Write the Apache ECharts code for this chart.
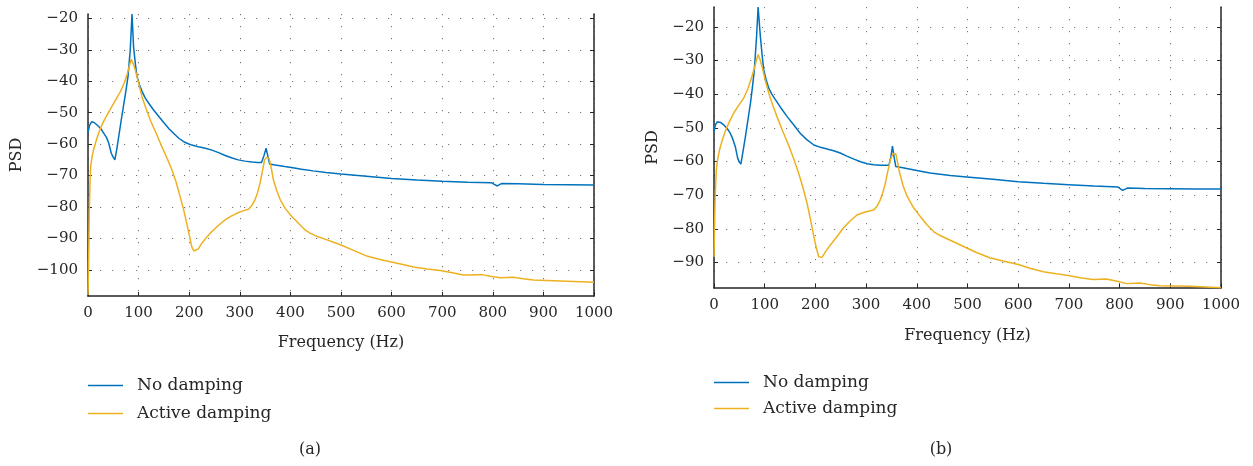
<!DOCTYPE html>
<html>
<head>
<meta charset="utf-8">
<style>
  html, body { margin: 0; padding: 0; background: #fff; }
  #chart { width: 1253px; height: 466px; }
</style>
<script src="https://cdn.jsdelivr.net/npm/echarts@6/dist/echarts.min.js"></script>
</head>
<body>
<div id="chart"></div>
<script>
// tick labels
var freqTicks = [0, 100, 200, 300, 400, 500, 600, 700, 800, 900, 1000]
var psdTicksA = [-100, -90, -80, -70, -60, -50, -40, -30, -20]
var psdTicksB = [-90, -80, -70, -60, -50, -40, -30, -20]

// (a) no damping
var freqA1 = [0, 3, 7, 12, 18, 25, 31, 37, 41, 46, 50, 53, 57, 61, 66, 70, 75, 79, 83.5, 87, 90, 94, 97, 102, 107, 113, 120, 130, 140, 150, 160, 170, 180, 190, 197, 205, 218, 232, 245, 258, 271, 285, 297, 310, 324, 335, 343, 348, 352, 355, 359, 370, 389, 405, 422, 445, 470, 500, 550, 600, 650, 700, 750, 798, 803, 809, 814, 818, 850, 900, 950, 1000]
var psdA1 = [-56.3, -54, -52.9, -53.1, -53.9, -55, -56.5, -58, -59.7, -62.9, -64.2, -65, -61.5, -57.3, -52, -48, -43, -38.5, -30, -18.6, -29, -35, -38.5, -41.3, -43.3, -45.3, -47, -49.2, -51.2, -53.2, -55.1, -56.7, -58.2, -59.3, -59.8, -60.3, -60.8, -61.3, -61.9, -62.7, -63.6, -64.4, -65, -65.4, -65.7, -65.8, -65.8, -63.5, -61.3, -63.5, -66.3, -66.6, -67.1, -67.5, -68, -68.5, -69, -69.5, -70.2, -70.9, -71.4, -71.8, -72.1, -72.3, -72.8, -73.3, -72.8, -72.5, -72.6, -72.8, -72.9, -73]

// (a) active damping
var freqA2 = [0, 1.5, 2.6, 4, 5.3, 8, 11, 16, 21, 27, 34, 42, 50.7, 58, 64, 71, 77, 82, 85.5, 89, 93.5, 100, 106.6, 115, 123, 135, 146, 156, 166, 174, 182, 189, 195, 200, 205, 209, 212, 218, 225, 235, 245, 258, 271, 283, 294, 305, 317, 324, 330, 335, 340, 345, 349, 353, 358, 362, 366.5, 373, 380, 390, 402.7, 415, 429, 439, 450, 468.5, 498.6, 525, 551, 575, 597, 620, 643.5, 670, 696, 720, 742, 760, 778.5, 795, 815, 841, 860, 880.6, 933, 1000]
var psdA2 = [-108, -95, -81, -72, -67.1, -64, -61.8, -59, -56.5, -54, -51.8, -49.5, -47, -45, -43.3, -40.8, -38, -35, -33, -34.3, -36.4, -40.5, -44.9, -48.8, -52.3, -56.6, -60.8, -64.4, -68.2, -72, -76.7, -80.8, -85.1, -88.8, -92.6, -94, -94.5, -93.3, -91.5, -89.5, -87.8, -85.8, -84.1, -82.9, -82, -81.3, -80.7, -79.5, -77.7, -75.5, -72.4, -68.3, -65, -64.2, -64.5, -67.5, -71.4, -74.8, -77.7, -80.5, -83, -85, -87.3, -88.3, -89.2, -90.2, -92, -93.8, -95.6, -96.6, -97.4, -98.2, -99.1, -99.7, -100.2, -100.9, -101.6, -101.6, -101.5, -102, -102.5, -102.3, -102.8, -103.2, -103.5, -103.9]

// (b) no damping
var freqB1 = [0, 3, 7, 13, 19, 26, 32, 37, 42, 46.7, 50, 53, 57, 62, 67, 72, 76, 79.6, 84, 87, 91.4, 95, 98, 103, 108, 114, 121, 132, 144, 157, 170, 183, 197, 210, 223, 236, 249, 262, 276, 289, 302, 315, 328, 345, 349, 352, 355, 358.5, 370, 387.5, 405, 426, 466, 498.5, 550, 600, 650, 699, 750, 797, 801, 806, 811, 815, 850, 899, 950, 1000]
var psdB1 = [-51.1, -49, -48.2, -48.4, -49.1, -50.2, -51.6, -53.3, -55.6, -59, -60.2, -60.8, -57.2, -52.6, -47.6, -42.6, -37.7, -32.7, -22.8, -14.1, -22.8, -28.5, -32.7, -35.8, -38.2, -40, -41.6, -44.1, -46.6, -49.1, -51.6, -53.5, -55.1, -55.8, -56.3, -56.8, -57.5, -58.4, -59.3, -60.1, -60.7, -61, -61.1, -61.1, -58.5, -55.4, -58.5, -61.5, -61.8, -62.3, -62.8, -63.4, -64.2, -64.6, -65.3, -66, -66.5, -66.9, -67.3, -67.6, -68.1, -68.6, -68.2, -67.9, -68, -68.1, -68.2, -68.2]

// (b) active damping
var freqB2 = [0, 1, 2, 3.3, 4.6, 7, 11, 16, 22, 30, 39, 48, 58.5, 67, 75, 81, 87, 90.5, 94.7, 101, 108, 116, 124, 135, 147, 157, 167, 175, 183.5, 190, 197, 202, 206.6, 210, 213, 220, 229.6, 243, 256, 269, 282, 298, 315, 322, 328, 333, 338, 343, 348, 353, 358.5, 362, 366.4, 373, 381, 393, 407, 420, 433.5, 446, 466, 498.5, 520, 544, 570, 600, 625, 649.5, 675, 699, 725, 748, 774, 795, 814, 840, 860, 879, 938.5, 1000]
var psdB2 = [-88.3, -80, -72.4, -66.5, -62.5, -59.5, -56.5, -53.8, -51.1, -48.3, -45.6, -43.5, -41.2, -38.3, -34.7, -31.5, -28.2, -29.6, -31.7, -35.8, -39.7, -43.3, -46.6, -50.8, -55.1, -59.1, -63.5, -67.5, -72.4, -77, -82.4, -85.8, -88.3, -88.6, -88.5, -86.8, -84.8, -82.2, -79.6, -77.6, -75.9, -75, -74.4, -73.2, -71.4, -69.2, -66.5, -62.8, -59.5, -57.7, -57.7, -60.3, -63.5, -67.2, -70.4, -73.6, -76.4, -78.8, -80.9, -82, -83.4, -85.7, -87.2, -88.6, -89.6, -90.6, -91.8, -92.8, -93.4, -93.9, -94.6, -95.1, -94.9, -95.6, -96.3, -96.1, -96.6, -96.9, -97.1, -97.5]

var BLUE = '#0072BD'
var ORANGE = '#EDB120'
var INK = '#262626'
var FONT = 'DejaVu Serif'

function zip(xs, ys) {
  return xs.map(function (x, i) { return [x, ys[i]] })
}

function xAxisFor(gridIndex, gap) {
  return {
    type: 'value',
    gridIndex: gridIndex,
    min: 0,
    max: 1000,
    interval: 100,
    name: 'Frequency (Hz)',
    nameLocation: 'middle',
    nameGap: gap,
    nameTextStyle: { fontFamily: FONT, fontSize: 16, color: INK },
    axisLine: { lineStyle: { color: INK, width: 1.5 } },
    axisTick: { inside: true, length: 4, customValues: freqTicks, lineStyle: { color: INK } },
    axisLabel: {
      fontFamily: FONT, fontSize: 15, color: INK, margin: 10,
      customValues: freqTicks,
      formatter: function (v) { return String(v) }
    },
    splitLine: {
      show: true,
      lineStyle: { color: '#777', width: 1, type: [1.2, 10.8] }
    }
  }
}

function yAxisFor(gridIndex, min, max, ticks, gap) {
  return {
    type: 'value',
    gridIndex: gridIndex,
    position: 'left',
    min: min,
    max: max,
    name: 'PSD',
    nameLocation: 'middle',
    nameGap: gap,
    nameRotate: 90,
    nameTextStyle: { fontFamily: FONT, fontSize: 16, color: INK },
    axisLine: { show: true, lineStyle: { color: INK, width: 1.5 } },
    axisTick: { inside: true, length: 4, customValues: ticks, lineStyle: { color: INK } },
    axisLabel: {
      fontFamily: FONT, fontSize: 15, color: INK, margin: 10,
      customValues: ticks,
      formatter: function (v) { return String(v).replace('-', '\u2212') }
    },
    splitLine: {
      show: true,
      lineStyle: { color: '#777', width: 1, type: [1.2, 10.8] }
    }
  }
}

function boxAxisFor(gridIndex, min, max, ticks) {
  return {
    type: 'value',
    gridIndex: gridIndex,
    position: 'right',
    min: min,
    max: max,
    axisLine: { show: true, lineStyle: { color: INK, width: 1.5 } },
    axisTick: { inside: true, length: 4, customValues: ticks, lineStyle: { color: INK } },
    axisLabel: { show: false },
    splitLine: { show: false }
  }
}

function lineSeries(name, color, xi, yi, data) {
  return {
    type: 'line',
    name: name,
    xAxisIndex: xi,
    yAxisIndex: yi,
    data: data,
    symbol: 'none',
    smooth: false,
    lineStyle: { color: color, width: 1.5 },
    itemStyle: { color: color },
    animation: false
  }
}

function legendAt(name, left, top) {
  return {
    data: [name],
    left: left,
    top: top,
    icon: 'rect',
    itemWidth: 35,
    itemHeight: 1.5,
    padding: 0,
    selectedMode: false,
    textStyle: { fontFamily: FONT, fontSize: 17, color: INK, padding: [0, 0, 0, 9] }
  }
}

var chart = echarts.init(document.getElementById('chart'), null, { renderer: 'canvas' })

var option = {
  animation: false,
  grid: [
    { left: 88, top: 14, width: 506, height: 282 },
    { left: 714, top: 7, width: 507, height: 281 }
  ],
  xAxis: [xAxisFor(0, 39), xAxisFor(1, 40)],
  yAxis: [
    yAxisFor(0, -108.3, -18.6, psdTicksA, 63),
    boxAxisFor(0, -108.3, -18.6, psdTicksA),
    yAxisFor(1, -97.6, -14.1, psdTicksB, 53),
    boxAxisFor(1, -97.6, -14.1, psdTicksB)
  ],
  legend: [
    legendAt('No damping', 88, 377),
    legendAt('Active damping', 88, 405),
    legendAt('No damping', 714, 374),
    legendAt('Active damping', 714, 400)
  ],
  graphic: [
    { type: 'text', x: 310, y: 450, style: { text: '(a)', fontFamily: FONT, fontSize: 16, fill: INK, textAlign: 'center', textVerticalAlign: 'middle' } },
    { type: 'text', x: 941, y: 450, style: { text: '(b)', fontFamily: FONT, fontSize: 16, fill: INK, textAlign: 'center', textVerticalAlign: 'middle' } }
  ],
  series: [
    lineSeries('No damping', BLUE, 0, 0, zip(freqA1, psdA1)),
    lineSeries('Active damping', ORANGE, 0, 0, zip(freqA2, psdA2)),
    lineSeries('No damping', BLUE, 1, 2, zip(freqB1, psdB1)),
    lineSeries('Active damping', ORANGE, 1, 2, zip(freqB2, psdB2))
  ]
}

chart.setOption(option)
</script>
</body>
</html>
